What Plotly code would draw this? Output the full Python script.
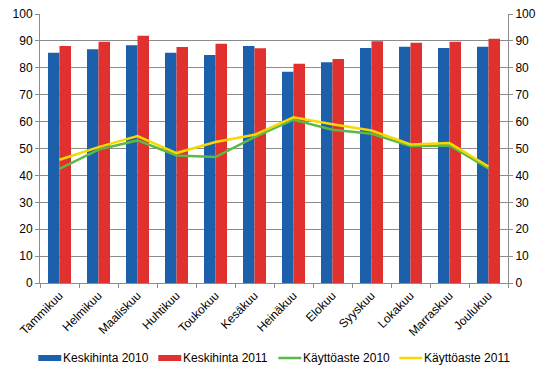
import plotly.graph_objects as go

months = ["Tammikuu", "Helmikuu", "Maaliskuu", "Huhtikuu", "Toukokuu", "Kesäkuu",
          "Heinäkuu", "Elokuu", "Syyskuu", "Lokakuu", "Marraskuu", "Joulukuu"]
keskihinta_2010 = [85.6, 86.9, 88.4, 85.6, 84.8, 88.1, 78.5, 82.1, 87.4, 87.8, 87.4, 87.8]
keskihinta_2011 = [88.1, 89.7, 91.9, 87.7, 88.9, 87.3, 81.5, 83.3, 89.9, 89.3, 89.7, 90.8]
kayttoaste_2010 = [42.4, 49.6, 53.0, 47.4, 46.8, 54.2, 60.7, 57.0, 55.5, 50.9, 51.1, 42.6]
kayttoaste_2011 = [45.8, 50.5, 54.6, 48.3, 52.4, 55.1, 61.6, 59.0, 56.7, 51.5, 52.0, 43.3]
y_ticks = [0, 10, 20, 30, 40, 50, 60, 70, 80, 90, 100]

BLUE = "#1c5faa"
RED = "#e0312f"
GREEN = "#5bb946"
YELLOW = "#f7d800"
GRID = "#8c8c8c"
FONT = "Liberation Sans"

W, H = 546, 376
OFF = 8  # default page body margin shifts the figure
# desired plot area on screen: x 40..508, y 14..283
ML, MT = 40 - OFF, 14 - OFF
MR, MB = W - (508 - OFF), H - (283 - OFF)
PW, PH = W - ML - MR, H - MT - MB


def px_x(px):
    return (px - OFF - ML) / PW


def px_y(py):
    return (H - MB - (py - OFF)) / PH


fig = go.Figure()
fig.add_trace(go.Bar(x=months, y=keskihinta_2010, name="Keskihinta 2010",
                     marker=dict(color=BLUE, line=dict(width=0))))
fig.add_trace(go.Bar(x=months, y=keskihinta_2011, name="Keskihinta 2011",
                     marker=dict(color=RED, line=dict(width=0))))
fig.add_trace(go.Scatter(x=months, y=kayttoaste_2010, name="Käyttöaste 2010",
                         mode="lines", line=dict(color=GREEN, width=2.5)))
fig.add_trace(go.Scatter(x=months, y=kayttoaste_2011, name="Käyttöaste 2011",
                         mode="lines", line=dict(color=YELLOW, width=2.5)))
# invisible trace to activate right axis
fig.add_trace(go.Scatter(x=months, y=kayttoaste_2011, yaxis="y2", showlegend=False,
                         mode="lines", line=dict(width=0), hoverinfo="skip", opacity=0))

# manual legend (Excel-like: swatch directly followed by text)
legend_items = [
    ("Keskihinta 2010", BLUE, "bar", 38.3),
    ("Keskihinta 2011", RED, "bar", 158.3),
    ("Käyttöaste 2010", GREEN, "line", 278.3),
    ("Käyttöaste 2011", YELLOW, "line", 399.3),
]
shapes = []
annotations = []
LEG_Y = 358
for name, color, kind, x0 in legend_items:
    x1 = x0 + 23
    if kind == "bar":
        shapes.append(dict(type="rect", xref="paper", yref="paper",
                           x0=px_x(x0), x1=px_x(x1), y0=px_y(LEG_Y - 3), y1=px_y(LEG_Y + 3),
                           fillcolor=color, line=dict(width=0)))
    else:
        shapes.append(dict(type="line", xref="paper", yref="paper",
                           x0=px_x(x0), x1=px_x(x1), y0=px_y(LEG_Y), y1=px_y(LEG_Y),
                           line=dict(color=color, width=2.5)))
    annotations.append(dict(text=name, xref="paper", yref="paper",
                            x=px_x(x1 + 1), y=px_y(LEG_Y - 0.5), xanchor="left", yanchor="middle",
                            showarrow=False, font=dict(size=12, color="black"), borderpad=0))

fig.update_layout(
    width=W, height=H,
    margin=dict(l=ML, r=MR, t=MT, b=MB),
    paper_bgcolor="white", plot_bgcolor="white",
    font=dict(family=FONT, size=12, color="black"),
    barmode="group", bargap=0.41, bargroupgap=0,
    showlegend=False,
    shapes=shapes, annotations=annotations,
    xaxis=dict(showgrid=False, tickangle=-45, ticks="outside", ticklen=4,
               tickcolor=GRID, showline=True, linecolor=GRID, linewidth=1,
               tickson="boundaries", tickfont=dict(size=12), automargin=False),
    yaxis=dict(range=[0, 100], tickvals=y_ticks, showgrid=True, gridcolor=GRID,
               gridwidth=1, showline=True, linecolor=GRID, ticks="outside",
               ticklen=4, tickcolor=GRID, zeroline=False, tickfont=dict(size=12),
               automargin=False, ticklabeloverflow="allow"),
    yaxis2=dict(range=[0, 100], tickvals=y_ticks, overlaying="y", side="right",
                showgrid=False, showline=True, linecolor=GRID, ticks="outside",
                ticklen=4, tickcolor=GRID, zeroline=False, tickfont=dict(size=12),
                automargin=False, ticklabeloverflow="allow"),
)

fig.write_html("out.html")
